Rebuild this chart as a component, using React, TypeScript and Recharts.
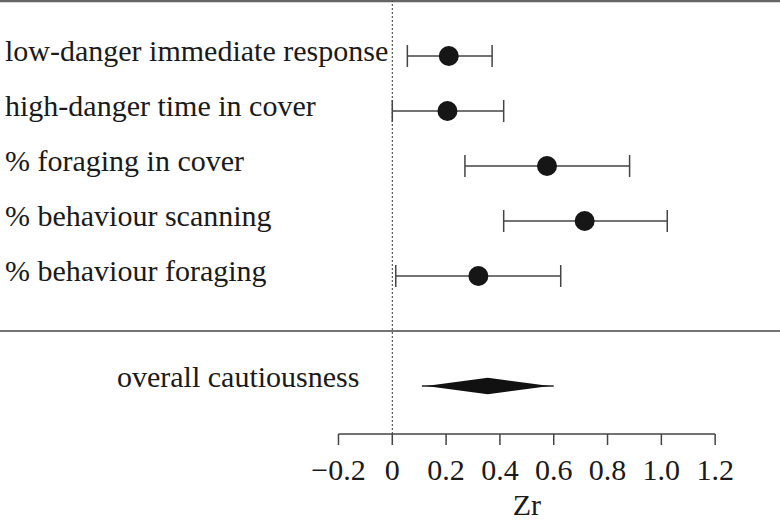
import {
  ScatterChart,
  Scatter,
  XAxis,
  YAxis,
  ErrorBar,
  ReferenceLine,
  ReferenceArea,
  Label,
} from "recharts";

const rowLabels = [
  "low-danger immediate response",
  "high-danger time in cover",
  "% foraging in cover",
  "% behaviour scanning",
  "% behaviour foraging",
];
const estimates = [0.21, 0.205, 0.575, 0.715, 0.32];
const lowerCI = [0.056, 0.0, 0.27, 0.414, 0.013];
const upperCI = [0.371, 0.414, 0.882, 1.022, 0.626];

const overallLabel = "overall cautiousness";
const overallLower = 0.11;
const overallUpper = 0.6;

const xTicks = [-0.2, 0, 0.2, 0.4, 0.6, 0.8, 1.0, 1.2];
const axisTitle = "Zr";

const X_MIN = -1.458;
const X_MAX = 1.441;
const Y_MIN = -1;
const Y_MAX = 6.873;
const OVERALL_ROW = 6;
const SEPARATOR_ROW = 5;
const FONT = "'Liberation Serif', 'Times New Roman', serif";

const rows = estimates.map((e, i) => ({
  est: e,
  row: i,
  err: [e - lowerCI[i], upperCI[i] - e],
}));

const fmt = (v: number) =>
  v === 0 ? "0" : v < 0 ? `\u2212${Math.abs(v).toFixed(1)}` : v.toFixed(1);

function RowLabel(props: any) {
  const { y, payload } = props;
  const v = payload.value;
  if (v === OVERALL_ROW) {
    return (
      <text x={117} y={y + 1} fontSize={30} fill="#1a1a1a" fontFamily={FONT}>
        {overallLabel}
      </text>
    );
  }
  return (
    <text x={5} y={y + 5} fontSize={30} fill="#1a1a1a" fontFamily={FONT}>
      {rowLabels[v]}
    </text>
  );
}

function Dot(props: any) {
  const { cx, cy } = props;
  return <circle cx={cx} cy={cy} r={10} fill="#161616" />;
}

// pooled estimate drawn as a diamond spanning the CI
function Diamond(props: any) {
  const { x, y, width, height } = props;
  const mx = x + width / 2;
  const my = y + height / 2;
  return (
    <g>
      <line x1={x} y1={my} x2={x + width} y2={my} stroke="#222" strokeWidth={1.5} />
      <polygon
        points={`${x + 4},${my} ${mx},${y} ${x + width - 4},${my} ${mx},${y + height}`}
        fill="#111"
      />
    </g>
  );
}

function AxisTitle(props: any) {
  const { viewBox } = props;
  if (!viewBox) return null;
  const mid = (xTicks[0] + xTicks[xTicks.length - 1]) / 2;
  const x = viewBox.x + ((mid - X_MIN) / (X_MAX - X_MIN)) * viewBox.width;
  return (
    <text
      x={x}
      y={viewBox.y + viewBox.height - 7}
      textAnchor="middle"
      fontSize={30}
      fill="#1a1a1a"
      fontFamily={FONT}
    >
      {axisTitle}
    </text>
  );
}

export default function App() {
  return (
    <div style={{ width: 780, height: 522 }}>
      <style>{"body{margin:0}"}</style>
      <ScatterChart
        width={780}
        height={522}
        margin={{ top: 1, right: 0, bottom: 0, left: -1 }}
        style={{ fontFamily: FONT }}
      >
        <XAxis
          type="number"
          dataKey="est"
          domain={[X_MIN, X_MAX]}
          allowDataOverflow
          ticks={xTicks}
          interval={0}
          tickFormatter={fmt}
          axisLine={false}
          tickSize={11}
          tickMargin={14}
          tickLine={{ stroke: "#444", strokeWidth: 1.5 }}
          tick={{ fontSize: 30, fill: "#1a1a1a", fontFamily: FONT }}
          height={88}
        >
          <Label content={AxisTitle} />
        </XAxis>
        <YAxis
          type="number"
          dataKey="row"
          domain={[Y_MIN, Y_MAX]}
          allowDataOverflow
          reversed
          width={1}
          ticks={[0, 1, 2, 3, 4, OVERALL_ROW]}
          interval={0}
          axisLine={false}
          tickLine={false}
          tick={RowLabel}
        />
        <ReferenceLine y={Y_MIN} stroke="#666" strokeWidth={2.5} />
        <ReferenceLine y={SEPARATOR_ROW} stroke="#444" strokeWidth={1.5} />
        <ReferenceLine x={0} stroke="#333" strokeWidth={1} strokeDasharray="2 2" />
        <ReferenceLine
          segment={[
            { x: xTicks[0], y: Y_MAX },
            { x: xTicks[xTicks.length - 1], y: Y_MAX },
          ]}
          stroke="#444"
          strokeWidth={1.5}
        />
        <ReferenceArea
          x1={overallLower}
          x2={overallUpper}
          y1={OVERALL_ROW - 0.15}
          y2={OVERALL_ROW + 0.15}
          shape={Diamond}
        />
        <Scatter data={rows} shape={Dot} isAnimationActive={false}>
          <ErrorBar
            dataKey="err"
            direction="x"
            width={11}
            stroke="#444"
            strokeWidth={1.5}
            isAnimationActive={false}
          />
        </Scatter>
      </ScatterChart>
    </div>
  );
}
